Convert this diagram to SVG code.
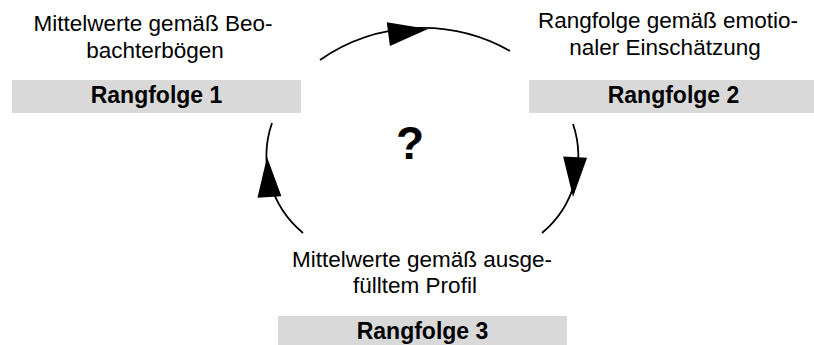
<svg xmlns="http://www.w3.org/2000/svg" width="814" height="345" viewBox="0 0 814 345">
<style>
.lbl{font-family:"Liberation Sans",Arial,sans-serif;font-size:22.5px;fill:#000;text-anchor:middle}
.rank{font-family:"Liberation Sans",Arial,sans-serif;font-size:23px;font-weight:bold;fill:#000;text-anchor:middle}
.box{fill:#d9d9d9}
.arc{fill:none;stroke:#000;stroke-width:1.8}
.q{font-family:"Liberation Sans",Arial,sans-serif;font-size:46px;font-weight:bold;fill:#000;text-anchor:middle}
</style>
<defs>
<path id="ah" d="M0,0 L-40,-12 L-40,12 Z" fill="#000"/>
</defs>
<rect width="814" height="345" fill="#fff"/>
<g id="node1">
<text class="lbl" x="153" y="31">Mittelwerte gemäß Beo-</text>
<text class="lbl" x="155" y="58">bachterbögen</text>
<rect class="box" x="12" y="80" width="289" height="33"/>
<text class="rank" x="156.5" y="103">Rangfolge 1</text>
</g>
<g id="node2">
<text class="lbl" x="668" y="28">Rangfolge gemäß emotio-</text>
<text class="lbl" x="665" y="55">naler Einschätzung</text>
<rect class="box" x="529" y="80" width="289" height="33"/>
<text class="rank" x="673.5" y="103">Rangfolge 2</text>
</g>
<g id="node3">
<text class="lbl" x="422" y="267">Mittelwerte gemäß ausge-</text>
<text class="lbl" x="415" y="293">fülltem Profil</text>
<rect class="box" x="278" y="316" width="289" height="33"/>
<text class="rank" x="422.5" y="339">Rangfolge 3</text>
</g>
<g id="center">
<text class="q" x="410" y="159">?</text>
</g>
<g id="connectors">
<path class="arc" d="M320,60 A179,179 0 0 1 510,51"/>
<path class="arc" d="M573,124 A100,100 0 0 1 542,233"/>
<path class="arc" d="M303,233 A100,100 0 0 1 272,123"/>
<use href="#ah" transform="translate(428,29) rotate(-7.5)"/>
<use href="#ah" transform="translate(573,197) rotate(93)"/>
<use href="#ah" transform="translate(267,157) rotate(-93.5)"/>
</g>
</svg>
